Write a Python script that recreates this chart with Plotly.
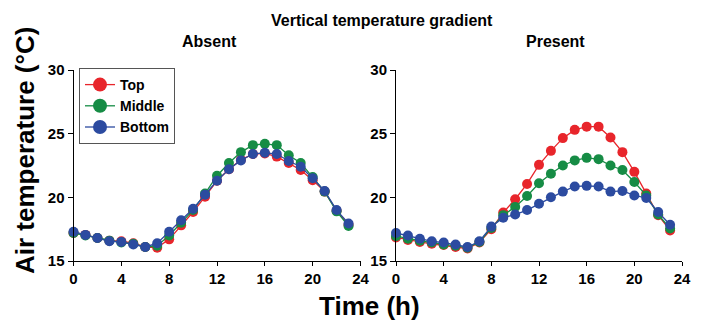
import plotly.graph_objects as go

hours = list(range(24))

absent_top = [17.2, 17.05, 16.8, 16.6, 16.55, 16.4, 16.1, 16.05, 16.7, 17.8, 18.85, 20.05,
              21.3, 22.2, 22.95, 23.4, 23.45, 23.2, 22.7, 22.15, 21.35, 20.45, 18.95, 17.85]
absent_middle = [17.2, 17.0, 16.8, 16.6, 16.45, 16.35, 16.1, 16.2, 17.0, 18.0, 19.0, 20.3,
                 21.7, 22.7, 23.55, 24.1, 24.2, 24.1, 23.3, 22.7, 21.6, 20.45, 18.9, 17.75]
absent_bottom = [17.3, 17.05, 16.8, 16.55, 16.5, 16.3, 16.1, 16.4, 17.3, 18.2, 19.1, 20.2,
                 21.3, 22.2, 22.9, 23.4, 23.5, 23.4, 22.85, 22.4, 21.5, 20.5, 19.0, 17.95]

present_top = [16.85, 16.65, 16.5, 16.35, 16.25, 16.1, 15.98, 16.45, 17.5, 18.8, 19.85, 21.05,
               22.55, 23.65, 24.65, 25.3, 25.55, 25.55, 24.7, 23.55, 22.0, 20.3, 18.6, 17.4]
present_middle = [16.95, 16.75, 16.6, 16.45, 16.3, 16.2, 16.05, 16.5, 17.6, 18.6, 19.25, 20.1,
                  21.1, 21.85, 22.5, 22.9, 23.1, 23.0, 22.5, 22.15, 21.2, 20.15, 18.65, 17.55]
present_bottom = [17.2, 17.0, 16.75, 16.55, 16.45, 16.3, 16.1, 16.55, 17.7, 18.4, 18.65, 19.0,
                  19.5, 20.0, 20.45, 20.85, 20.9, 20.85, 20.45, 20.5, 20.15, 19.95, 18.85, 17.85]

series_names = ["Top", "Middle", "Bottom"]
colors = ["#e8252b", "#168c45", "#2c4ba0"]
x_ticks = [0, 4, 8, 12, 16, 20, 24]
y_ticks = [15, 20, 25, 30]

W, H = 705, 320
fig = go.Figure()

panels = [
    ("x", "y", [absent_top, absent_middle, absent_bottom]),
    ("x2", "y2", [present_top, present_middle, present_bottom]),
]
for xa, ya, data in panels:
    for name, vals, col in zip(series_names, data, colors):
        fig.add_trace(go.Scatter(
            x=hours, y=vals, mode="lines+markers", name=name,
            xaxis=xa, yaxis=ya, showlegend=False, cliponaxis=False,
            line=dict(color=col, width=1.3),
            marker=dict(color=col, size=10, line=dict(width=0)),
        ))

# legend entries (larger symbols, as in the reference legend)
for name, col in zip(series_names, colors):
    fig.add_trace(go.Scatter(
        x=[None], y=[None], mode="lines+markers", name=name, xaxis="x", yaxis="y",
        line=dict(color=col, width=1.3), marker=dict(color=col, size=14, line=dict(width=0)),
        showlegend=True,
    ))

tickfont = dict(family="Liberation Sans, Arial", size=15, color="black", weight="bold")
common_x = dict(range=[0, 24], tickvals=x_ticks, showline=True, linecolor="black", linewidth=1,
                ticks="outside", ticklen=4, tickcolor="black", showgrid=False, zeroline=False,
                tickfont=tickfont, automargin=False, fixedrange=True)
common_y = dict(range=[15, 30], tickvals=y_ticks, showline=True, linecolor="black", linewidth=1,
                ticks="outside", ticklen=5, tickcolor="black", showgrid=False, zeroline=False,
                tickfont=tickfont, automargin=False, fixedrange=True)

yb = 1 - 261 / H
yt = 1 - 70 / H
fig.update_layout(
    width=W, height=H,
    margin=dict(l=0, r=0, t=0, b=0, autoexpand=False),
    paper_bgcolor="white", plot_bgcolor="white",
    xaxis=dict(domain=[73.5 / W, 360.5 / W], anchor="y", **common_x),
    yaxis=dict(domain=[yb, yt], anchor="x", **common_y),
    xaxis2=dict(domain=[396 / W, 682 / W], anchor="y2", **common_x),
    yaxis2=dict(domain=[yb, yt], anchor="x2", **common_y),
    legend=dict(x=79 / W, y=1 - 68 / H, xanchor="left", yanchor="top",
                bordercolor="#555555", borderwidth=1, bgcolor="white",
                font=dict(family="Liberation Sans, Arial", size=14, color="black", weight="bold"),
                tracegroupgap=0, itemwidth=30),
    showlegend=True,
)

big = dict(family="Liberation Sans, Arial", size=26, color="black", weight="bold")
sub = dict(family="Liberation Sans, Arial", size=16, color="black", weight="bold")
ann = dict(xref="paper", yref="paper", showarrow=False, xanchor="center", yanchor="middle")
fig.add_annotation(text="Vertical temperature gradient", x=382 / W, y=1 - 20 / H, font=sub, **ann)
fig.add_annotation(text="Absent", x=209 / W, y=1 - 42 / H, font=sub, **ann)
fig.add_annotation(text="Present", x=555 / W, y=1 - 42 / H, font=sub, **ann)
fig.add_annotation(text="Air temperature (°C)", x=25 / W, y=1 - 151 / H, textangle=-90, font=big, **ann)
fig.add_annotation(text="Time (h)", x=369 / W, y=1 - 306 / H, font=big, **ann)

fig.write_html("out.html", config={"displayModeBar": False},
               post_script="document.body.style.margin='0';")
